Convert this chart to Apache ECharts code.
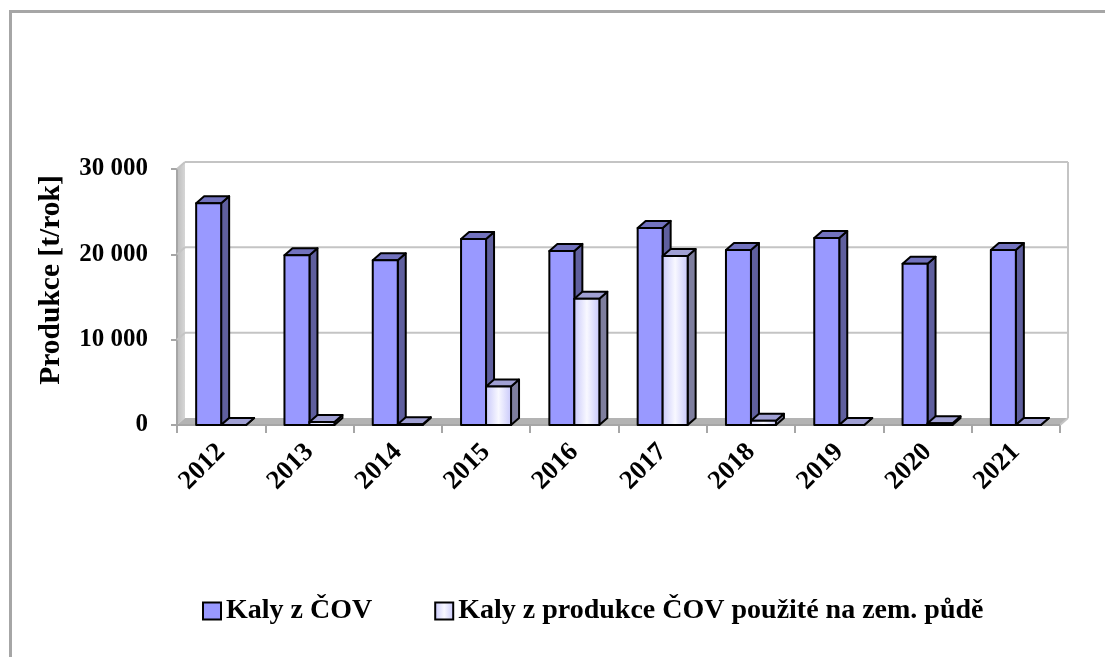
<!DOCTYPE html>
<html>
<head>
<meta charset="utf-8">
<script src="https://cdn.jsdelivr.net/npm/echarts@6/dist/echarts.min.js"></script>
<style>
html,body{margin:0;padding:0;background:#fff;}
#c{width:1105px;height:657px;}
</style>
</head>
<body>
<div id="c"></div>
<script>
const categories = ['2012','2013','2014','2015','2016','2017','2018','2019','2020','2021'];
const kalyCOV = [26000, 19900, 19300, 21800, 20400, 23100, 20500, 21900, 18900, 20500];
const kalyPuda = [0, 350, 100, 4500, 14800, 19800, 500, 0, 200, 0];
const yTicks = [0, 10000, 20000, 30000];
const seriesNames = ['Kaly z ČOV', 'Kaly z produkce ČOV použité na zem. půdě'];
const yTitle = 'Produkce [t/rok]';

const FONT = "'Times New Roman','Liberation Serif',serif";
const DX = 8, DY = -7;          // 3D depth offset
const BAR_FRAC = 0.283;         // bar width as fraction of category band

const styles = [
  { front: '#9999FF', top: '#7272BE', side: '#5F5F9E' },
  { front: { type: 'linear', x: 0, y: 0, x2: 1, y2: 0,
             colorStops: [{offset:0,color:'#C6C6FA'},{offset:0.5,color:'#F8F8FF'},{offset:1,color:'#C6C6FA'}] },
    top: '#A0A0D4', side: '#7E7E9E' }
];

function barRenderer(sIdx) {
  return function (params, api) {
    const idx = api.value(0), val = api.value(1);
    const p0 = api.coord([idx, 0]);
    const p1 = api.coord([idx, val]);
    const band = api.size([1, 0])[0];
    const w = band * BAR_FRAC;
    const x0 = sIdx === 0 ? p0[0] - w : p0[0];
    const y0 = p0[1], y1 = p1[1];
    const st = styles[sIdx];
    const line = { stroke: '#000', lineWidth: 2, lineJoin: 'round' };
    return {
      type: 'group',
      children: [
        { type: 'polygon', shape: { points: [[x0 + w, y1], [x0 + w + DX, y1 + DY], [x0 + w + DX, y0 + DY], [x0 + w, y0]] },
          style: Object.assign({ fill: st.side }, line) },
        { type: 'polygon', shape: { points: [[x0, y1], [x0 + DX, y1 + DY], [x0 + w + DX, y1 + DY], [x0 + w, y1]] },
          style: Object.assign({ fill: st.top }, line) },
        { type: 'rect', shape: { x: x0, y: y1, width: w, height: y0 - y1 },
          style: Object.assign({ fill: st.front }, line) }
      ]
    };
  };
}

function wallRenderer(params, api) {
  const cs = params.coordSys;
  const left = cs.x, right = cs.x + cs.width, top = cs.y, bottom = cs.y + cs.height;
  const v = api.value(1);
  const y = api.coord([0, v])[1];
  const children = [];
  if (params.dataIndex === 0) {
    children.push(
      { type: 'polygon', shape: { points: [[left, top], [left + DX, top + DY], [left + DX, bottom + DY], [left, bottom]] },
        style: { fill: { type:'linear', x:0, y:0, x2:1, y2:0, colorStops:[{offset:0,color:'#BDBDBD'},{offset:1,color:'#D6D6D6'}] } } },
      { type: 'polygon', shape: { points: [[left, bottom], [left + DX, bottom + DY], [right + DX, bottom + DY], [right, bottom]] },
        style: { fill: '#B3B3B3' } },
      { type: 'line', shape: { x1: right + DX, y1: top + DY, x2: right + DX, y2: bottom + DY },
        style: { stroke: '#C4C4C4', lineWidth: 2 } },
      { type: 'line', shape: { x1: right, y1: bottom, x2: right + DX, y2: bottom + DY },
        style: { stroke: '#C4C4C4', lineWidth: 2 } },
      { type: 'line', shape: { x1: left, y1: top, x2: left, y2: bottom },
        style: { stroke: '#A6A6A6', lineWidth: 2 } },
      { type: 'line', shape: { x1: left, y1: bottom, x2: right, y2: bottom },
        style: { stroke: '#A6A6A6', lineWidth: 2 } }
    );
  } else {
    children.push(
      { type: 'line', shape: { x1: left + DX, y1: y + DY, x2: right + DX, y2: y + DY },
        style: { stroke: '#C4C4C4', lineWidth: 2 } },
      { type: 'line', shape: { x1: left, y1: y, x2: left + DX, y2: y + DY },
        style: { stroke: '#C4C4C4', lineWidth: 2 } }
    );
  }
  return { type: 'group', children: children };
}

const chart = echarts.init(document.getElementById('c'), null, { renderer: 'canvas' });

chart.setOption({
  backgroundColor: '#fff',
  animation: false,
  textStyle: { fontFamily: FONT },
  grid: { left: 177, right: 45, top: 169, bottom: 232, containLabel: false },
  xAxis: {
    type: 'category',
    data: categories,
    boundaryGap: true,
    axisLine: { show: false },
    axisTick: { show: true, length: 8, lineStyle: { color: '#A6A6A6', width: 2 } },
    axisLabel: { rotate: 45, margin: 23, fontSize: 26.5, fontWeight: 'bold', color: '#000', fontFamily: FONT, interval: 0 },
    splitLine: { show: false }
  },
  yAxis: {
    type: 'value',
    min: 0, max: 30000, interval: 10000,
    axisLine: { show: false },
    axisTick: { show: true, length: 6, lineStyle: { color: '#A6A6A6', width: 2 } },
    axisLabel: { margin: 29, fontSize: 25, fontWeight: 'bold', color: '#000', fontFamily: FONT,
      formatter: function (v) { return String(v).replace(/\B(?=(\d{3})+(?!\d))/g, ' '); } },
    splitLine: { show: false }
  },
  legend: {
    left: 197, top: 592,
    itemWidth: 18, itemHeight: 17, itemGap: 62,
    textStyle: { fontSize: 28, fontWeight: 'bold', color: '#000', fontFamily: FONT },
    data: [
      { name: seriesNames[0], icon: 'rect', itemStyle: { color: '#9999FF', borderColor: '#000', borderWidth: 2 } },
      { name: seriesNames[1], icon: 'rect', itemStyle: { color: styles[1].front, borderColor: '#000', borderWidth: 2 } }
    ]
  },
  graphic: [
    { type: 'rect', left: 8, top: 9, shape: { width: 1110, height: 700 }, style: { fill: 'none', stroke: '#A6A6A6', lineWidth: 3 }, z: 100 },
    { type: 'text', x: 51, y: 280, rotation: Math.PI / 2,
      style: { text: yTitle, fontSize: 29.5, fontWeight: 'bold', fill: '#000', fontFamily: FONT, align: 'center', verticalAlign: 'middle' } }
  ],
  series: [
    { type: 'custom', name: 'walls', silent: true, z: 1, renderItem: wallRenderer,
      data: yTicks.map(function (v) { return [0, v]; }), encode: { x: 0, y: 1 } },
    { type: 'custom', name: seriesNames[0], z: 3, renderItem: barRenderer(0),
      itemStyle: { color: '#9999FF' },
      data: kalyCOV.map(function (v, i) { return [i, v]; }), encode: { x: 0, y: 1 } },
    { type: 'custom', name: seriesNames[1], z: 4, renderItem: barRenderer(1),
      itemStyle: { color: '#D8D8FF' },
      data: kalyPuda.map(function (v, i) { return [i, v]; }), encode: { x: 0, y: 1 } }
  ]
});
</script>
</body>
</html>
